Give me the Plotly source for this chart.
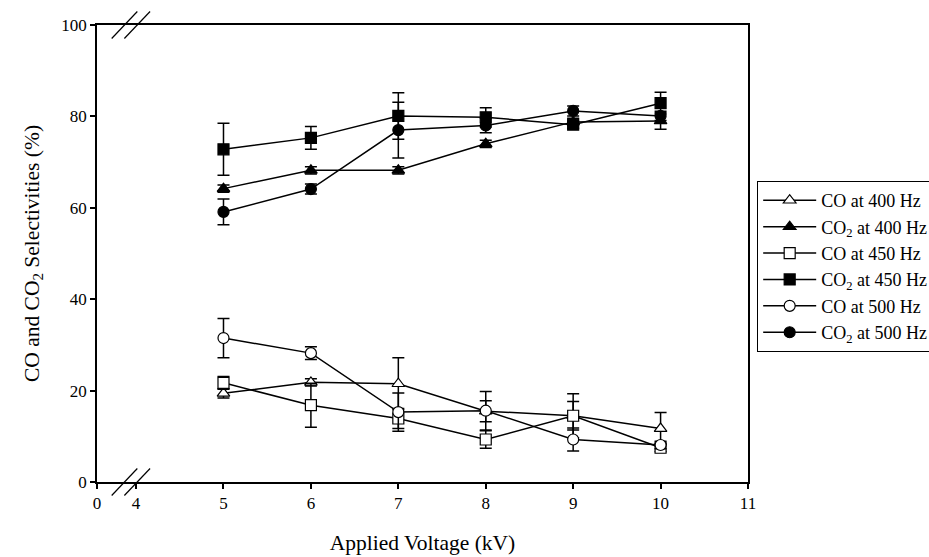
import plotly.graph_objects as go

# Applied voltage (kV)
voltage = [5, 6, 7, 8, 9, 10]

# Selectivities (%) and their standard deviations
co_400 = [19.4, 21.8, 21.5, 15.5, 14.5, 11.7]
co_400_err = [1.0, 0.8, 5.7, 2.3, 4.8, 3.5]
co2_400 = [64.2, 68.2, 68.2, 74.0, 78.8, 79.0]
co2_400_err = [0.8, 0.8, 0.8, 0.8, 0.8, 1.8]

co_450 = [21.7, 16.8, 13.9, 9.3, 14.5, 7.5]
co_450_err = [1.4, 4.8, 2.2, 1.9, 3.1, 0.8]
co2_450 = [72.8, 75.3, 80.1, 79.8, 78.2, 82.9]
co2_450_err = [5.7, 2.5, 5.1, 2.1, 0.8, 2.4]

co_500 = [31.5, 28.2, 15.3, 15.6, 9.3, 8.1]
co_500_err = [4.3, 1.4, 4.2, 4.2, 2.5, 0.8]
co2_500 = [59.1, 64.1, 77.0, 78.0, 81.2, 80.1]
co2_500_err = [2.8, 1.1, 6.1, 1.6, 1.1, 1.0]

# Broken x axis: the "0" tick sits just left of 4
x_break_start = 3.553
x_tick_vals = [x_break_start, 4, 5, 6, 7, 8, 9, 10, 11]
x_tick_text = ["0", "4", "5", "6", "7", "8", "9", "10", "11"]
y_tick_vals = [0, 20, 40, 60, 80, 100]

FONT = "Liberation Serif, Times New Roman, serif"

series = [
    ("CO at 400 Hz", co_400, co_400_err, "triangle-up", "white"),
    ("CO<sub>2</sub> at 400 Hz", co2_400, co2_400_err, "triangle-up", "black"),
    ("CO at 450 Hz", co_450, co_450_err, "square", "white"),
    ("CO<sub>2</sub> at 450 Hz", co2_450, co2_450_err, "square", "black"),
    ("CO at 500 Hz", co_500, co_500_err, "circle", "white"),
    ("CO<sub>2</sub> at 500 Hz", co2_500, co2_500_err, "circle", "black"),
]

fig = go.Figure()
for name, vals, errs, sym, fill in series:
    fig.add_trace(go.Scatter(
        x=voltage, y=vals, name=name, mode="lines+markers",
        line=dict(color="black", width=1.5),
        marker=dict(symbol=sym, size=11, color=fill,
                    line=dict(color="black", width=1.2)),
        error_y=dict(type="data", array=errs, visible=True,
                     color="black", thickness=1.5, width=6),
    ))

# Axis-break slashes on the bottom and top edges
for x0, x1 in [(3.721, 4.014), (3.866, 4.160)]:
    for yc in (0.0, 1.0):
        fig.add_shape(type="line", xref="x", yref="paper",
                      x0=x0, x1=x1, y0=yc - 0.0295, y1=yc + 0.0295,
                      line=dict(color="black", width=1.2))

fig.update_layout(
    width=929, height=557,
    margin=dict(l=97, r=181, t=25, b=75, autoexpand=False),
    paper_bgcolor="white", plot_bgcolor="white",
    font=dict(family=FONT, size=17, color="black"),
    showlegend=True,
    legend=dict(
        x=1.0138, xanchor="left", y=0.659, yanchor="top",
        bordercolor="black", borderwidth=1.2,
        font=dict(family=FONT, size=18, color="black"),
        bgcolor="white", tracegroupgap=0, itemwidth=53,
    ),
)
fig.update_xaxes(
    range=[x_break_start, 11], tickvals=x_tick_vals, ticktext=x_tick_text,
    showline=True, mirror=True, linecolor="black", linewidth=1.5,
    ticks="outside", ticklen=5, tickwidth=1.5, tickcolor="black",
    showgrid=False, zeroline=False,
    tickfont=dict(family=FONT, size=17),
    title=dict(text="Applied Voltage (kV)", font=dict(family=FONT, size=21.5),
               standoff=23),
)
fig.update_yaxes(
    range=[0, 100], tickvals=y_tick_vals,
    showline=True, mirror=True, linecolor="black", linewidth=1.5,
    ticks="outside", ticklen=5, tickwidth=1.5, tickcolor="black",
    showgrid=False, zeroline=False,
    tickfont=dict(family=FONT, size=17),
    title=dict(text="CO and CO<sub>2</sub> Selectivities (%)",
               font=dict(family=FONT, size=21.5), standoff=16),
)

fig.write_html("out.html")
